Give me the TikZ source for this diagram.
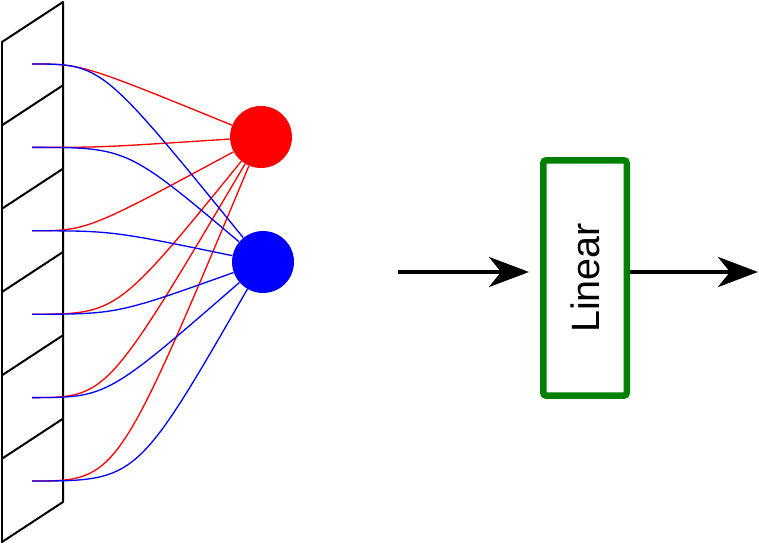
\documentclass[tikz,border=0pt]{standalone}
\usepackage{fontspec}
\setmainfont{Liberation Sans}
\usetikzlibrary{arrows.meta,positioning}
\tikzstyle{neuron} = [circle, minimum size=1.24cm, inner sep=0]
\tikzstyle{layer}  = [rectangle, rounded corners=0.06cm, minimum width=1.67cm, minimum height=4.71cm, draw=green!50!black, line width=0.13cm, fill=white]
\tikzstyle{arrow}  = [line width=0.09cm, -{Stealth[length=0.8cm,width=0.6cm,inset=0.24cm]}]
\tikzstyle{wire}   = [line width=0.75pt]
\tikzstyle{frame}  = [line width=0.04cm, line join=round]

\begin{document}
\begin{tikzpicture}[x=0.02cm,y=-0.02cm]
        \useasboundingbox (0,0) rectangle (759,546);

        % input panel
        \draw [frame] (2,42) -- (63,2) -- (63,502) -- (2,542) -- cycle;
        \draw [frame] (2,125.3) -- (63,85.3);
        \draw [frame] (2,208.7) -- (63,168.7);
        \draw [frame] (2,292) -- (63,252);
        \draw [frame] (2,375.3) -- (63,335.3);
        \draw [frame] (2,458.7) -- (63,418.7);

        \coordinate (in1) at (32,64);
        \coordinate (in2) at (32,147.4);
        \coordinate (in3) at (32,230.8);
        \coordinate (in4) at (32,314.2);
        \coordinate (in5) at (32,397.6);
        \coordinate (in6) at (32,481);

        \node (redn)  [neuron, fill=red]  at (261,137) {};
        \node (bluen) [neuron, fill=blue] at (263,262) {};

        \draw [wire, red] (in1) .. controls +(50,0) .. (redn);
        \draw [wire, red] (in2) .. controls +(70,0) .. (redn);
        \draw [wire, red] (in3) .. controls +(55,0) .. (redn);
        \draw [wire, red] (in4) .. controls +(85,0) .. (redn);
        \draw [wire, red] (in5) .. controls +(75,0) .. (redn);
        \draw [wire, red] (in6) .. controls +(85,0) .. (redn);

        \draw [wire, blue] (in1) .. controls +(70,0) .. (bluen);
        \draw [wire, blue] (in2) .. controls +(95,0) .. (bluen);
        \draw [wire, blue] (in3) .. controls +(80,0) .. (bluen);
        \draw [wire, blue] (in4) .. controls +(85,0) .. (bluen);
        \draw [wire, blue] (in5) .. controls +(75,0) .. (bluen);
        \draw [wire, blue] (in6) .. controls +(105,0) .. (bluen);

        % linear block
        \node (lin) [layer] at (585,278) {\rotatebox{90}{\fontsize{22.5}{27}\selectfont Linear}};
        \coordinate (src) at (398,272);
        \coordinate (dst) at (758,272);

        \draw [arrow, shorten >=0.22cm] (src) -- (src -| lin.west);
        \draw [arrow] (dst -| lin.east) -- (dst);
\end{tikzpicture}
\end{document}
